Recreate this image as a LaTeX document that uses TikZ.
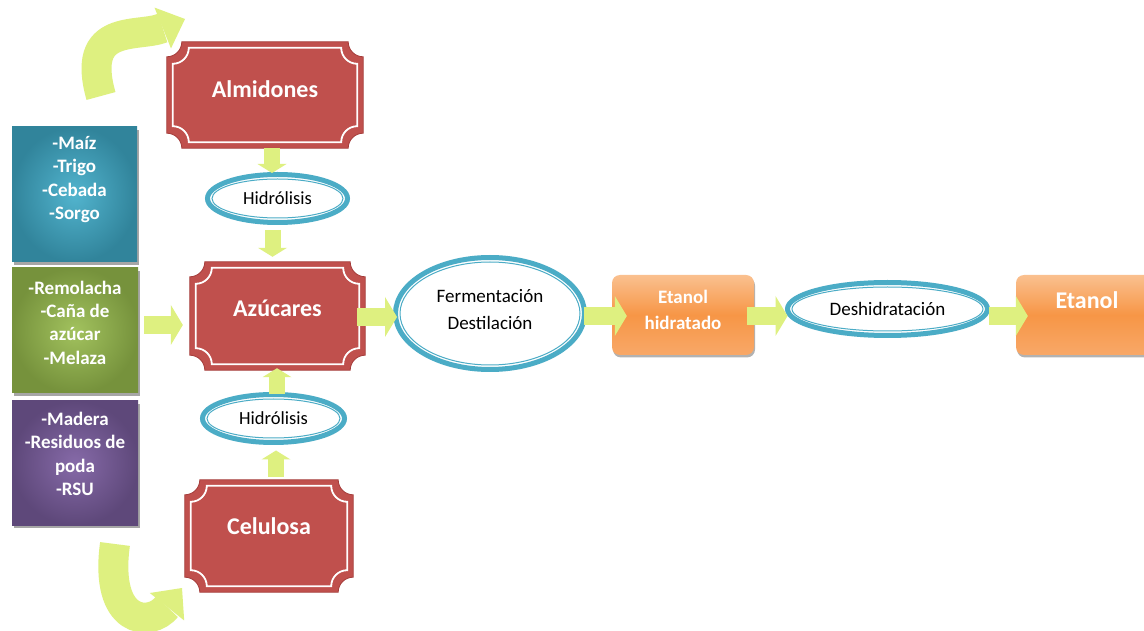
\documentclass[tikz,border=0pt]{standalone}
\usepackage{fontspec}
\setmainfont{Carlito}
\usetikzlibrary{shapes.geometric,arrows.meta,backgrounds,calc,shadows}
\definecolor{plqred}{RGB}{192,80,77}
\definecolor{plqdark}{RGB}{165,60,58}
\definecolor{ellblue}{RGB}{75,172,198}
\definecolor{limec}{RGB}{222,240,128}
\definecolor{bluein}{RGB}{82,180,206}
\definecolor{blueout}{RGB}{49,132,155}
\definecolor{greenin}{RGB}{162,194,94}
\definecolor{greenout}{RGB}{118,146,60}
\definecolor{purpin}{RGB}{134,106,168}
\definecolor{purpout}{RGB}{94,72,122}
\definecolor{orgtop}{RGB}{250,192,143}
\definecolor{orgmid}{RGB}{247,150,70}
\definecolor{orgbot}{RGB}{248,168,104}

\newcommand\plaqueshape[1]{%
  \path[fill=plqred, draw=plqdark, line width=0.8pt]
    let \p1=(#1.south west), \p2=(#1.north east) in
    (\x1+15pt,\y2) -- (\x2-15pt,\y2) arc[start angle=180,end angle=270,radius=15pt]
    -- (\x2,\y1+15pt) arc[start angle=90,end angle=180,radius=15pt]
    -- (\x1+15pt,\y1) arc[start angle=0,end angle=90,radius=15pt]
    -- (\x1,\y2-15pt) arc[start angle=270,end angle=360,radius=15pt] -- cycle;
  \path[draw=white, line width=1.8pt]
    let \p1=($(#1.south west)+(6pt,6pt)$), \p2=($(#1.north east)-(6pt,6pt)$) in
    (\x1+16pt,\y2) -- (\x2-16pt,\y2) arc[start angle=180,end angle=270,radius=16pt]
    -- (\x2,\y1+16pt) arc[start angle=90,end angle=180,radius=16pt]
    -- (\x1+16pt,\y1) arc[start angle=0,end angle=90,radius=16pt]
    -- (\x1,\y2-16pt) arc[start angle=270,end angle=360,radius=16pt] -- cycle;}

\newcommand\ringin[1]{%
  \draw[ellblue, line width=1pt]
    let \p1=($(#1.east)-(#1.center)$), \p2=($(#1.north)-(#1.center)$) in
    (#1.center) ellipse [x radius=\x1-4.5pt, y radius=\y2-4.5pt];}

\tikzset{
  srcbox/.style={rectangle, inner sep=0pt, text=white, align=center,
    font=\bfseries\fontsize{19}{23.3}\selectfont,
    drop shadow={shadow xshift=2pt, shadow yshift=-3pt, fill=black, opacity=.35}},
  plaque/.style={rectangle, inner sep=0pt, text=white,
    font=\bfseries\fontsize{24}{28}\selectfont},
  oval/.style={ellipse, draw=ellblue, line width=5pt, fill=white, inner sep=0pt,
    outer sep=0pt, align=center, font=\fontsize{19}{27}\selectfont},
  orgbox/.style={rectangle, rounded corners=8pt, top color=orgtop, bottom color=orgbot,
    middle color=orgmid, inner sep=0pt, text=white, align=center,
    drop shadow={shadow xshift=1pt, shadow yshift=-2.5pt, fill=black, opacity=.3}},
  blkh/.style={draw=limec, line width=18pt,
    -{Triangle[length=12pt 0 0, width=40pt 0 0, line width=0pt]}},
  blkv/.style={draw=limec, line width=16pt,
    -{Triangle[length=9pt 0 0, width=29pt 0 0, line width=0pt]}},
  curv/.style={draw=limec, line width=30pt,
    -{Triangle[length=24pt 0 0, width=44pt 0 0, line width=0pt]}}
}

\begin{document}
\begin{tikzpicture}[x=1pt,y=1pt]
\clip (0,0) rectangle (1144,630);
\begin{scope}[on background layer]
  \fill[white] (0,0) rectangle (1144,630);
\end{scope}

% source boxes
\node[srcbox, inner color=bluein, outer color=blueout, minimum width=125pt, minimum height=135pt]
  (maiz) at (74.5,435.5) {\raisebox{15pt}[\height][\depth]{\parbox{120pt}{\centering -Maíz\\-Trigo\\-Cebada\\-Sorgo}}};
\node[srcbox, inner color=greenin, outer color=greenout, minimum width=126pt, minimum height=125pt]
  (remo) at (75,299.5) {\raisebox{8pt}[\height][\depth]{\parbox{120pt}{\centering -Remolacha\\-Caña de\\azúcar\\-Melaza}}};
\node[srcbox, inner color=purpin, outer color=purpout, minimum width=126pt, minimum height=124pt]
  (made) at (75,167) {\raisebox{9pt}[\height][\depth]{\parbox{120pt}{\centering -Madera\\-Residuos de\\poda\\-RSU}}};

% plaques
\node[plaque, minimum width=196pt, minimum height=106pt] (alm) at (265,535)
  {\raisebox{5.5pt}[\height][\depth]{Almidones}};
\node[plaque, minimum width=175pt, minimum height=108pt] (azu) at (277.5,314)
  {\raisebox{8pt}[\height][\depth]{Azúcares}};
\node[plaque, minimum width=168pt, minimum height=112pt] (cel) at (269,94)
  {\raisebox{10pt}[\height][\depth]{Celulosa}};
\begin{scope}[on background layer]
  \plaqueshape{alm}\plaqueshape{azu}\plaqueshape{cel}
\end{scope}

% ovals
\node[oval, minimum width=140pt, minimum height=48pt, font=\fontsize{18.5}{22}\selectfont]
  (h1) at (277.5,431.5) {Hidrólisis};
\node[oval, minimum width=142pt, minimum height=48pt, font=\fontsize{18.5}{22}\selectfont]
  (h2) at (273.5,211.5) {Hidrólisis};
\node[oval, minimum width=189pt, minimum height=112pt] (ferm) at (490,316.5)
  {\raisebox{4pt}[\height][\depth]{\parbox{112pt}{\centering Fermentación\\Destilación}}};
\node[oval, minimum width=200pt, minimum height=53pt] (desh) at (887.5,321) {Deshidratación};
\ringin{h1}\ringin{h2}\ringin{ferm}\ringin{desh}

% orange boxes
\node[orgbox, minimum width=142pt, minimum height=80pt, font=\bfseries\fontsize{19}{26}\selectfont]
  (eh) at (683,315) {\raisebox{5pt}[\height][\depth]{\parbox{120pt}{\centering Etanol\\hidratado}}};
\node[orgbox, minimum width=142pt, minimum height=80pt, font=\bfseries\fontsize{24}{28}\selectfont]
  (eta) at (1087,315) {\raisebox{14.5pt}[\height][\depth]{Etanol}};

% vertical block arrows
\draw[blkv, shorten >=1.5pt] ([xshift=7pt]alm.south) -- ([xshift=-5.5pt]h1.north);
\draw[blkv, shorten <=7.5pt, shorten >=5pt] ([xshift=-5pt]h1.south) -- ([xshift=-5pt]azu.north);
\draw[blkv, shorten >=-2pt] ([xshift=3.5pt]h2.north) -- ([xshift=-0.5pt]azu.south);
\draw[blkv, shorten <=3pt, shorten >=8pt] ([xshift=7pt]cel.north) -- ([xshift=2.5pt]h2.south);

% horizontal block arrows
\draw[blkh, shorten <=6pt, shorten >=7pt] ([yshift=5.5pt]remo.east) -- ([yshift=-9pt]azu.west);
\draw[blkh, shorten <=-8pt, shorten >=-1.5pt] ([yshift=-1pt]azu.east) -- ([yshift=-3.5pt]ferm.west);
\draw[blkh, shorten <=-1pt, shorten >=-15pt] ([yshift=-2.5pt]ferm.east) -- ([yshift=-1pt]eh.west);
\draw[blkh, shorten <=-7pt] ([yshift=-1pt]eh.east) -- ([yshift=-7pt]desh.west);
\draw[blkh, shorten <=1pt, shorten >=-12pt] ([yshift=-7pt]desh.east) -- ([yshift=-1pt]eta.west);

% curved arrows
\coordinate (ca1) at (101,534);
\coordinate (ca2) at (185,611);
\draw[curv] (ca1) .. controls (80,608) and (138,592) .. (ca2);
\coordinate (cb1) at (115,86);
\coordinate (cb2) at (182,42);
\draw[curv] (cb1) .. controls (104,6) and (150,2) .. (cb2);
\end{tikzpicture}
\end{document}
